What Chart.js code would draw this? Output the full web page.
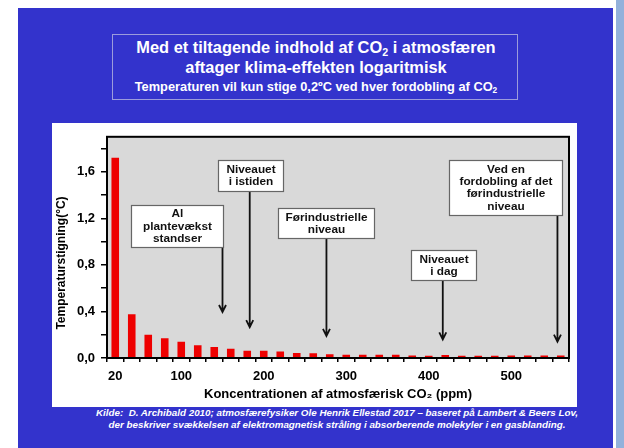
<!DOCTYPE html>
<html><head><meta charset="utf-8">
<script src="https://cdn.jsdelivr.net/npm/chart.js"></script>
<style>
html,body{margin:0;padding:0;background:#fff;width:624px;height:448px;overflow:hidden;font-family:"Liberation Sans",Arial,sans-serif;}
#blue{position:absolute;left:18px;top:8px;width:595px;height:440px;background:#3333cc;}
#stripe{position:absolute;left:616px;top:0;width:8px;height:448px;background:#93b1db;}
#titlebox{position:absolute;left:112px;top:34px;width:406px;height:66px;border:1px solid #9c9cdc;box-sizing:border-box;}
.tl{position:absolute;left:-50px;width:506px;text-align:center;color:#fff;font-weight:bold;white-space:nowrap;}
.tl sub{font-size:65%;vertical-align:-0.25em;line-height:0;}
#panel{position:absolute;left:52px;top:123px;width:525px;height:284px;background:#fff;}
#src{position:absolute;left:37px;width:600px;text-align:center;color:#fff;font-weight:bold;font-style:italic;font-size:9.8px;white-space:nowrap;}
</style></head>
<body>
<div id="blue"></div>
<div id="stripe"></div>
<div id="titlebox">
  <div class="tl" style="top:3px;font-size:16.4px;line-height:19px;">Med et tiltagende indhold af CO<sub>2</sub> i atmosfæren</div>
  <div class="tl" style="top:23px;font-size:16.4px;line-height:19px;">aftager klima-effekten logaritmisk</div>
  <div class="tl" style="top:45px;font-size:12.8px;line-height:14px;">Temperaturen vil kun stige 0,2ºC ved hver fordobling af CO<sub>2</sub></div>
</div>
<div id="panel"><canvas id="c" width="525" height="284"></canvas></div>
<div id="src" style="top:407px;line-height:11.5px;">Kilde:&nbsp; D. Archibald 2010; atmosfærefysiker Ole Henrik Ellestad 2017 – baseret på Lambert &amp; Beers Lov,<br>der beskriver svækkelsen af elektromagnetisk stråling i absorberende molekyler i en gasblanding.</div>
<script>
const categories = [20,40,60,80,100,120,140,160,180,200,220,240,260,280,300,320,340,360,380,400,420,440,460,480,500,520,540,560];
const tempRise = [1.72,0.375,0.20,0.17,0.14,0.11,0.094,0.08,0.063,0.063,0.055,0.044,0.041,0.033,0.028,0.028,0.028,0.028,0.022,0.02,0.025,0.02,0.02,0.02,0.022,0.022,0.022,0.022];
const xTickLabels = [20,100,200,300,400,500];
const yTickValues = [0,0.2,0.4,0.6,0.8,1.0,1.2,1.4,1.6,1.8];
const yTickLabels = ['0,0','','0,4','','0,8','','1,2','','1,6',''];
const yTitle = 'Temperaturstigning(°C)';
const xTitle = 'Koncentrationen af atmosfærisk CO₂ (ppm)';
const notes = [
  {lines:['Al','plantevækst','standser'], x0:39, x1:150, yTop:1.314, yBot:0.952, arrowX:150, tip:0.395},
  {lines:['Niveauet','i istiden'], x0:144, x1:223, yTop:1.70, yBot:1.435, arrowX:183, tip:0.265},
  {lines:['Førindustrielle','niveau'], x0:217, x1:334, yTop:1.286, yBot:1.03, arrowX:276, tip:0.19},
  {lines:['Niveauet','i dag'], x0:379, x1:457, yTop:0.927, yBot:0.67, arrowX:417, tip:0.16},
  {lines:['Ved en','fordobling af det','førindustrielle','niveau'], x0:424, x1:561, yTop:1.70, yBot:1.228, arrowX:556, tip:0.14}
];

const FONT = '"Liberation Sans", Arial, sans-serif';

const deco = {
  id:'deco',
  beforeDraw(chart){
    const {ctx, chartArea:a} = chart;
    ctx.save();
    ctx.fillStyle = '#d9d9d9';
    ctx.fillRect(a.left, a.top, a.right-a.left, a.bottom-a.top);
    ctx.restore();
  },
  afterDatasetsDraw(chart){
    const {ctx, chartArea:a, scales} = chart;
    const xs = scales.x, ys = scales.y;
    const p0 = xs.getPixelForValue(0), p1 = xs.getPixelForValue(1);
    const px = v => p0 + (v - categories[0]) / (categories[1]-categories[0]) * (p1 - p0);
    ctx.save();
    ctx.strokeStyle = '#000';
    ctx.lineWidth = 2;
    ctx.strokeRect(a.left, a.top, a.right-a.left, a.bottom-a.top);
    notes.forEach(n => {
      const l = Math.round(px(n.x0))+0.5, r = Math.round(px(n.x1))+0.5;
      const t = Math.round(ys.getPixelForValue(n.yTop))+0.5, b = Math.round(ys.getPixelForValue(n.yBot))+0.5;
      const ax = px(n.arrowX), ty = ys.getPixelForValue(n.tip);
      ctx.strokeStyle = '#111';
      ctx.lineWidth = 1.8;
      ctx.beginPath();
      ctx.moveTo(ax, b); ctx.lineTo(ax, ty);
      ctx.moveTo(ax-3.5, ty-7); ctx.lineTo(ax, ty); ctx.lineTo(ax+3.5, ty-7);
      ctx.stroke();
      ctx.fillStyle = '#fff';
      ctx.fillRect(l, t, r-l, b-t);
      ctx.strokeStyle = '#666';
      ctx.lineWidth = 1.2;
      ctx.strokeRect(l, t, r-l, b-t);
      ctx.fillStyle = '#111';
      ctx.font = 'bold 11.8px ' + FONT;
      ctx.textAlign = 'center';
      ctx.textBaseline = 'middle';
      const lh = 12.4;
      const cy = (t+b)/2 - (n.lines.length-1)*lh/2;
      n.lines.forEach((s,i) => ctx.fillText(s, (l+r)/2, cy + i*lh));
    });
    ctx.restore();
  },
  afterDraw(chart){
    const {ctx} = chart;
    ctx.save();
    ctx.translate(10, 140);
    ctx.rotate(-Math.PI/2);
    ctx.fillStyle = '#000';
    ctx.font = 'bold 12px ' + FONT;
    ctx.textAlign = 'center';
    ctx.textBaseline = 'middle';
    ctx.fillText(yTitle, 0, 0);
    ctx.restore();
  }
};

new Chart(document.getElementById('c'), {
  type:'bar',
  data:{
    labels: categories,
    datasets:[{data: tempRise, backgroundColor:'#ee0000', borderWidth:0, barPercentage:0.46, categoryPercentage:1.0}]
  },
  options:{
    responsive:false,
    animation:false,
    devicePixelRatio:1,
    layout:{padding:{left:0, top:5, right:8, bottom:0}},
    plugins:{legend:{display:false}, tooltip:{enabled:false}},
    scales:{
      x:{
        grid:{display:true, drawOnChartArea:false, drawTicks:true, tickLength:4, color:'#000', lineWidth:1.5, offset:true},
        border:{display:true, color:'#000', width:2},
        ticks:{
          autoSkip:false, maxRotation:0, minRotation:0, padding:7, color:'#000',
          font:{family:FONT, size:13, weight:'bold'},
          callback:(v,i) => xTickLabels.includes(categories[i]) ? String(categories[i]) : ''
        },
        title:{display:true, text:xTitle, color:'#000', font:{family:FONT, size:13, weight:'bold'}, padding:{top:0, bottom:5}},
        afterFit:(s) => { s.height = 49; }
      },
      y:{
        min:0, max:1.9,
        grid:{display:true, drawOnChartArea:false, drawTicks:true, tickLength:6, color:'#000', lineWidth:1.5},
        border:{display:true, color:'#000', width:2},
        afterBuildTicks:(s) => { s.ticks = yTickValues.map(v => ({value:v})); },
        ticks:{
          padding:6, color:'#000', font:{family:FONT, size:13, weight:'bold'},
          callback:(v,i) => yTickLabels[i]
        },
        afterFit:(s) => { s.width = 55; }
      }
    }
  },
  plugins:[deco]
});
</script>
</body></html>
